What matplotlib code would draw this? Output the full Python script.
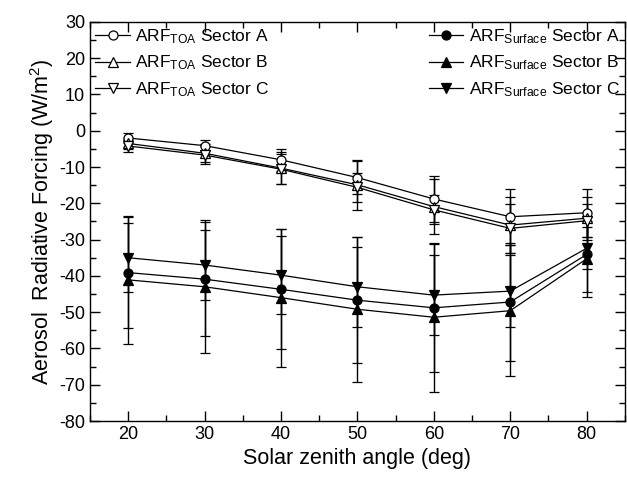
import numpy as np
import matplotlib
matplotlib.use("Agg")
import matplotlib.pyplot as plt
from matplotlib.ticker import MultipleLocator
from matplotlib.lines import Line2D

plt.rcParams['font.family'] = ['Liberation Sans', 'DejaVu Sans']
plt.rcParams['mathtext.fontset'] = 'custom'
plt.rcParams['mathtext.rm'] = 'Liberation Sans'
plt.rcParams['mathtext.it'] = 'Liberation Sans:italic'
plt.rcParams['axes.unicode_minus'] = False

sza = [20, 30, 40, 50, 60, 70, 80]

# ARF at top of atmosphere
toa_a = [-2.0, -4.1, -8.0, -12.9, -18.8, -23.7, -22.6]
toa_a_err = [1.3, 1.6, 3.0, 4.6, 6.3, 7.7, 6.6]
toa_b = [-3.5, -6.2, -10.3, -14.9, -20.9, -26.0, -24.1]
toa_b_err = [1.5, 2.5, 4.4, 6.9, 7.5, 7.8, 5.9]
toa_c = [-4.2, -6.7, -10.6, -15.6, -21.8, -26.9, -24.8]
toa_c_err = [1.6, 2.4, 4.1, 4.0, 4.0, 6.7, 4.6]

# ARF at surface
sur_a = [-39.1, -40.9, -43.7, -46.7, -48.8, -47.2, -34.1]
sur_a_err = [15.3, 15.8, 16.5, 17.3, 17.6, 16.2, 10.3]
sur_b = [-41.1, -43.0, -46.0, -49.2, -51.4, -49.6, -35.3]
sur_b_err = [17.6, 18.3, 19.0, 20.0, 20.5, 18.0, 10.4]
sur_c = [-35.0, -37.0, -39.8, -43.0, -45.3, -44.2, -32.4]
sur_c_err = [9.5, 9.7, 10.8, 11.0, 11.0, 10.0, 5.8]

fig = plt.figure(figsize=(6.27, 4.87), dpi=100)
ax = fig.add_axes([0.1435, 0.1355, 0.853, 0.8195])

def serie(y, err, marker, fill, label):
    ax.errorbar(sza, y, yerr=err, color='black', lw=0.9, marker=marker,
                ms=6.5, mfc=fill, mec='black', mew=0.9,
                ecolor='black', elinewidth=1.0, capsize=3.5, capthick=1.0)
    # legend handle without the error bar
    return Line2D([], [], color='black', lw=0.9, marker=marker, ms=6.5,
                  mfc=fill, mec='black', mew=0.9, label=label)

h1 = serie(toa_a, toa_a_err, 'o', 'white', r'ARF$_{\mathrm{TOA}}$ Sector A')
h2 = serie(toa_b, toa_b_err, '^', 'white', r'ARF$_{\mathrm{TOA}}$ Sector B')
h3 = serie(toa_c, toa_c_err, 'v', 'white', r'ARF$_{\mathrm{TOA}}$ Sector C')
h4 = serie(sur_a, sur_a_err, 'o', 'black', r'ARF$_{\mathrm{Surface}}$ Sector A')
h5 = serie(sur_b, sur_b_err, '^', 'black', r'ARF$_{\mathrm{Surface}}$ Sector B')
h6 = serie(sur_c, sur_c_err, 'v', 'black', r'ARF$_{\mathrm{Surface}}$ Sector C')

ax.set_xlim(15, 85)
ax.set_ylim(-80, 30)
ax.xaxis.set_major_locator(MultipleLocator(10))
ax.xaxis.set_minor_locator(MultipleLocator(5))
ax.yaxis.set_major_locator(MultipleLocator(10))
ax.yaxis.set_minor_locator(MultipleLocator(5))
ax.set_xticks([20, 30, 40, 50, 60, 70, 80])
ax.tick_params(which='both', direction='in', top=True, right=True, labelsize=13)
ax.tick_params(which='major', length=7, width=1)
ax.tick_params(which='minor', length=4, width=1)
for s in ax.spines.values():
    s.set_linewidth(1.0)

ax.set_xlabel('Solar zenith angle (deg)', fontsize=15.5, labelpad=4)
ax.set_ylabel('Aerosol  Radiative Forcing (W/m$^2$)', fontsize=15.5, labelpad=2)

leg1 = ax.legend(handles=[h1, h2, h3], loc='upper left', frameon=False,
                 fontsize=12.5, handlelength=2.0, handletextpad=0.3,
                 borderaxespad=0.1, labelspacing=0.45, borderpad=0.2)
ax.add_artist(leg1)
ax.legend(handles=[h4, h5, h6], loc='upper right', frameon=False,
          fontsize=12.5, handlelength=2.0, handletextpad=0.3,
          borderaxespad=0.1, labelspacing=0.45, borderpad=0.2)

fig.savefig('out.png', dpi=100)
